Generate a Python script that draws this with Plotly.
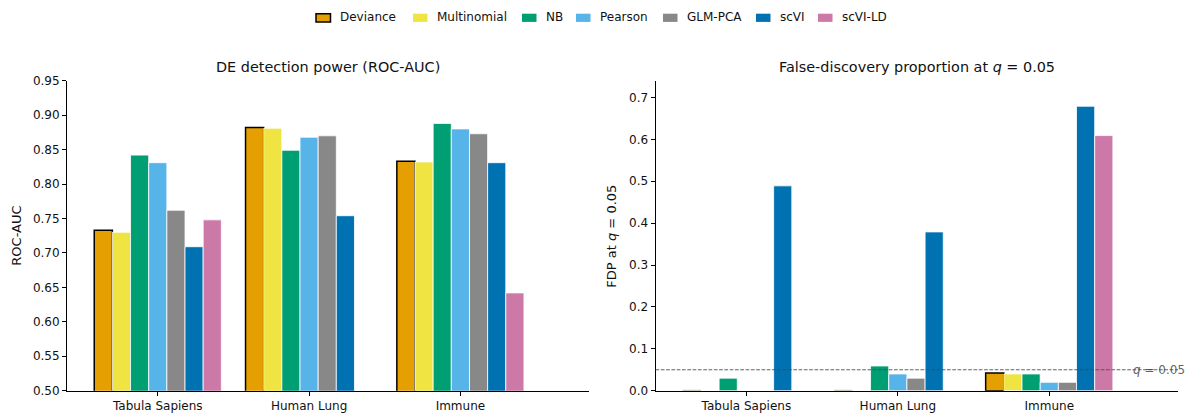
import plotly.graph_objects as go

# ---- data -------------------------------------------------------------
datasets = ["Tabula Sapiens", "Human Lung", "Immune"]
methods = ["Deviance", "Multinomial", "NB", "Pearson", "GLM-PCA", "scVI", "scVI-LD"]

# ROC-AUC of DE detection, one value per dataset
auc_deviance = [0.733, 0.882, 0.833]
auc_multinomial = [0.730, 0.881, 0.832]
auc_nb = [0.842, 0.849, 0.888]
auc_pearson = [0.831, 0.868, 0.880]
auc_glmpca = [0.762, 0.870, 0.873]
auc_scvi = [0.709, 0.754, 0.831]
auc_scvild = [0.748, None, 0.642]

# false-discovery proportion at q = 0.05, one value per dataset
fdp_deviance = [0.001, 0.001, 0.042]
fdp_multinomial = [0.0, 0.0, 0.040]
fdp_nb = [0.030, 0.059, 0.040]
fdp_pearson = [0.0, 0.040, 0.020]
fdp_glmpca = [0.0, 0.030, 0.020]
fdp_scvi = [0.489, 0.379, 0.679]
fdp_scvild = [None, None, 0.609]

q_level = 0.05

auc_values = [auc_deviance, auc_multinomial, auc_nb, auc_pearson,
              auc_glmpca, auc_scvi, auc_scvild]
fdp_values = [fdp_deviance, fdp_multinomial, fdp_nb, fdp_pearson,
              fdp_glmpca, fdp_scvi, fdp_scvild]

# ---- style ------------------------------------------------------------
colors = ["#E69F00", "#F0E442", "#009E73", "#56B4E9", "#888888", "#0072B2", "#CC79A7"]
FONT = "DejaVu Sans"
W, H = 1190, 414


def px(x):
    return x / W


def py(y):
    return 1 - y / H


def edge(method, vals=None):
    """Bar outline: black for Deviance (faint on near-empty bars), white otherwise."""
    if method == "Deviance":
        if vals is None:
            return dict(color="black", width=1.5)
        cols = ["#c4c4c4" if (v is not None and v < 0.005) else "black" for v in vals]
        wids = [1.0 if (v is not None and v < 0.005) else 1.5 for v in vals]
        return dict(color=cols, width=wids)
    return dict(color="white", width=0.8)


fig = go.Figure()
for m, c, auc, fdp in zip(methods, colors, auc_values, fdp_values):
    fig.add_trace(go.Bar(x=datasets, y=auc, name=m, marker=dict(color=c, line=edge(m, auc)),
                         xaxis="x", yaxis="y", showlegend=False))
    fig.add_trace(go.Bar(x=datasets, y=fdp, name=m, marker=dict(color=c, line=edge(m, fdp)),
                         xaxis="x2", yaxis="y2", showlegend=False))

axis_common = dict(showline=True, linecolor="black", linewidth=1, ticks="outside",
                   ticklen=4, tickwidth=1, tickcolor="black", showgrid=False,
                   zeroline=False, automargin=False,
                   tickfont=dict(family=FONT, size=12, color="#111"))

fig.update_layout(
    width=W, height=H,
    margin=dict(l=0, r=0, t=0, b=0),
    plot_bgcolor="white", paper_bgcolor="white",
    barmode="group", bargap=0.16, bargroupgap=0,
    font=dict(family=FONT, size=12, color="#111"),
    xaxis=dict(domain=[px(67), px(589)], anchor="y", type="category",
               range=[-0.6, 2.85], **axis_common),
    yaxis=dict(domain=[py(390.7), py(80.7)], anchor="x", range=[0.5, 0.95],
               tick0=0.5, dtick=0.05, tickformat=".2f", **axis_common),
    xaxis2=dict(domain=[px(655.5), px(1178)], anchor="y2", type="category",
                range=[-0.6, 2.85], **axis_common),
    yaxis2=dict(domain=[py(390.7), py(80.7)], anchor="x2", range=[0, 0.74],
                tick0=0, dtick=0.1, tickformat=".1f", **axis_common),
)

# q-level reference line and its label
fig.add_shape(type="line", xref="x2 domain", x0=0, x1=1, yref="y2", y0=q_level, y1=q_level,
              line=dict(color="rgba(70,70,70,0.85)", width=1, dash="3.7px,1.6px"), layer="above")
fig.add_annotation(text="<i>q</i> = 0.05", xref="paper", x=px(1131), xanchor="left",
                   yref="y2", y=q_level, yanchor="middle", showarrow=False,
                   font=dict(family=FONT, size=12, color="rgba(70,70,70,0.85)"))

# panel titles
fig.add_annotation(text="DE detection power (ROC-AUC)", xref="paper", x=px(328),
                   yref="paper", y=py(67), showarrow=False, xanchor="center", yanchor="middle",
                   font=dict(family=FONT, size=14.4, color="#111"))
fig.add_annotation(text="False-discovery proportion at <i>q</i> = 0.05", xref="paper",
                   x=px(916.7), yref="paper", y=py(67), showarrow=False,
                   xanchor="center", yanchor="middle",
                   font=dict(family=FONT, size=14.4, color="#111"))

# axis titles
fig.add_annotation(text="ROC-AUC", xref="paper", x=px(17), yref="paper", y=py(235.7),
                   textangle=-90, showarrow=False, xanchor="center", yanchor="middle",
                   font=dict(family=FONT, size=13, color="#111"))
fig.add_annotation(text="FDP at <i>q</i> = 0.05", xref="paper", x=px(612), yref="paper",
                   y=py(235.7), textangle=-90, showarrow=False, xanchor="center",
                   yanchor="middle", font=dict(family=FONT, size=13, color="#111"))

# legend row across the top
legend_left = [316, 413, 522, 576, 663, 756, 818]
sw_w, sw_h, leg_y = 14.5, 8.2, 17.8
for m, c, x0 in zip(methods, colors, legend_left):
    fig.add_shape(type="rect", xref="paper", yref="paper",
                  x0=px(x0), x1=px(x0 + sw_w), y0=py(leg_y + sw_h / 2), y1=py(leg_y - sw_h / 2),
                  fillcolor=c, line=edge(m) if m == "Deviance" else dict(width=0))
    fig.add_annotation(text=m, xref="paper", x=px(x0 + sw_w + 7), xanchor="left",
                       yref="paper", y=py(leg_y - 0.5), yanchor="middle", showarrow=False,
                       font=dict(family=FONT, size=12, color="#111"))

fig.write_html("out.html")
